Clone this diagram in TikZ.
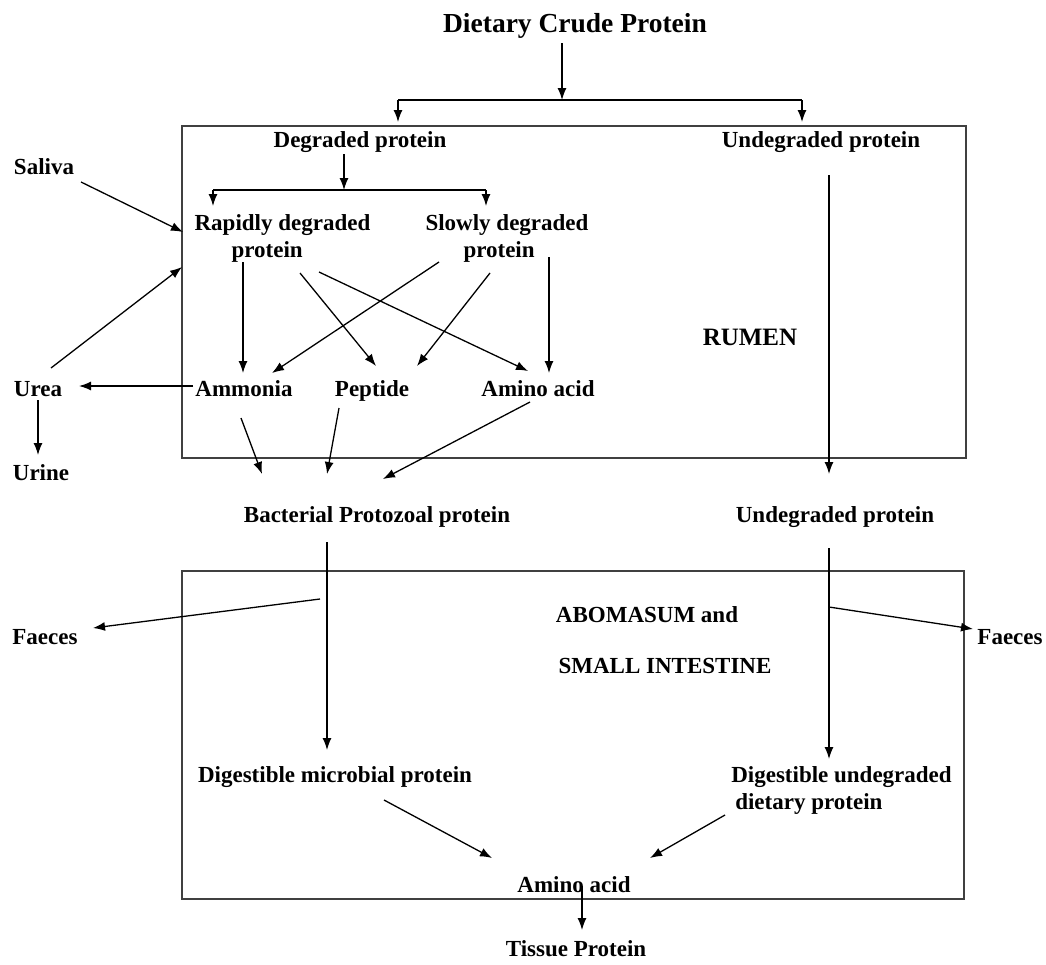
\documentclass[tikz,border=0pt]{standalone}
\usepackage{fontspec}
\setmainfont{Liberation Serif}
\usetikzlibrary{arrows.meta}
\begin{document}
\begin{tikzpicture}[x=1pt,y=-1pt,
  lbl/.style={font=\fontsize{23}{27}\selectfont\bfseries, inner sep=0pt, anchor=base},
  ttl/.style={font=\fontsize{27.5}{32}\selectfont\bfseries, inner sep=0pt, anchor=base},
  arr/.style={-{Latex[length=12pt,width=9pt]}, line width=1.3pt},
  ln/.style={line width=1.3pt},
  boxline/.style={line width=1.7pt, draw=black!75}]
\useasboundingbox[fill=white] (0,0) rectangle (1046,964);

% boxes
\draw[boxline] (182,126) rectangle (966,458);
\draw[boxline] (182,571) rectangle (964,899);

% labels
\node[ttl] (title) at (575,32) {Dietary Crude Protein};
\node[lbl] (deg) at (360,147) {Degraded protein};
\node[lbl] (undeg) at (821,147) {Undegraded protein};
\node[lbl] (saliva) at (44,174) {Saliva};
\node[lbl,align=left,anchor=center] (rap) at (282.5,238) {Rapidly degraded\\\hspace*{37pt}protein};
\node[lbl,align=left,anchor=center] (slow) at (507,238) {Slowly degraded\\\hspace*{38pt}protein};
\node[lbl,font=\fontsize{25}{29}\selectfont\bfseries] (rumen) at (750,345) {RUMEN};
\node[lbl] (urea) at (38,396) {Urea};
\node[lbl] (amm) at (244,396) {Ammonia};
\node[lbl] (pep) at (372,396) {Peptide};
\node[lbl] (aa) at (538,396) {Amino acid};
\node[lbl] (urine) at (41,480) {Urine};
\node[lbl] (bact) at (377,522) {Bacterial Protozoal protein};
\node[lbl] (undeg2) at (835,522) {Undegraded protein};
\node[lbl] (abom) at (647,622) {ABOMASUM and};
\node[lbl] (small) at (665,673) {SMALL INTESTINE};
\node[lbl] (faecesL) at (45,644) {Faeces};
\node[lbl] (faecesR) at (1010,644) {Faeces};
\node[lbl] (dmp) at (335,782) {Digestible microbial protein};
\node[lbl,align=left,anchor=center] (dud) at (841.5,790) {Digestible undegraded\\\hspace*{4pt}dietary protein};
\node[lbl] (aa2) at (574,892) {Amino acid};
\node[lbl] (tissue) at (576,956) {Tissue Protein};

% connector end points
\coordinate (tS) at (562,43);
\coordinate (j1) at (562,100);
\coordinate (jL) at (398,100);
\coordinate (jR) at (802,100);
\coordinate (dS) at (344,154);
\coordinate (j2) at (344,190);
\coordinate (j2L) at (213,190);
\coordinate (j2R) at (486,190);
\coordinate (salS) at (81,182);
\coordinate (sIn) at (183,232);
\coordinate (ureaS) at (51,368);
\coordinate (uIn) at (182,267);
\coordinate (ammW) at (193,386);
\coordinate (ureaE) at (79,386);
\coordinate (ureaB) at (38,400);
\coordinate (urineT) at (38,455);
\coordinate (rapA) at (243,262);
\coordinate (rapB) at (300,273);
\coordinate (rapC) at (319,272);
\coordinate (slowA) at (439,262);
\coordinate (slowB) at (490,273);
\coordinate (slowC) at (549,257);
\coordinate (ammT1) at (243,373);
\coordinate (ammT2) at (272,373);
\coordinate (pepT1) at (376,366);
\coordinate (pepT2) at (417,366);
\coordinate (aaT1) at (528,371);
\coordinate (aaT2) at (549,373);
\coordinate (ammB) at (241,418);
\coordinate (pepB) at (339,408);
\coordinate (aaB) at (530,402);
\coordinate (bT1) at (262,474);
\coordinate (bT2) at (327,474);
\coordinate (bT3) at (383,479);
\coordinate (uS) at (829,175);
\coordinate (u2T) at (829,474);
\coordinate (bB) at (327,542);
\coordinate (dmpT) at (327,750);
\coordinate (u2B) at (829,548);
\coordinate (dudT) at (829,759);
\coordinate (fL) at (320,599);
\coordinate (fLT) at (93,628);
\coordinate (fR) at (829,607);
\coordinate (fRT) at (973,629);
\coordinate (dmpB) at (384,800);
\coordinate (aaT3) at (492,858);
\coordinate (dudB) at (725,815);
\coordinate (aaT4) at (650,858);
\coordinate (aa2B) at (582,886);
\coordinate (tisT) at (582,930);

% top split
\draw[arr] (tS) -- (j1);
\draw[ln] (jL) -- (jR);
\draw[arr] (jL) -- ++(0,22);
\draw[arr] (jR) -- ++(0,22);

% degraded split
\draw[arr] (dS) -- (j2);
\draw[ln] (j2L) -- (j2R);
\draw[arr] (j2L) -- ++(0,16);
\draw[arr] (j2R) -- ++(0,16);

% saliva and urea recycling
\draw[arr] (salS) -- (sIn);
\draw[arr] (ureaS) -- (uIn);
\draw[arr] (ammW) -- (ureaE);
\draw[arr] (ureaB) -- (urineT);

% within rumen
\draw[arr] (rapA) -- (ammT1);
\draw[arr] (slowA) -- (ammT2);
\draw[arr] (rapB) -- (pepT1);
\draw[arr] (rapC) -- (aaT1);
\draw[arr] (slowB) -- (pepT2);
\draw[arr] (slowC) -- (aaT2);

% to microbial protein
\draw[arr] (ammB) -- (bT1);
\draw[arr] (pepB) -- (bT2);
\draw[arr] (aaB) -- (bT3);

% undegraded path
\draw[arr] (uS) -- (u2T);

% abomasum
\draw[arr] (bB) -- (dmpT);
\draw[arr] (u2B) -- (dudT);
\draw[arr] (fL) -- (fLT);
\draw[arr] (fR) -- (fRT);
\draw[arr] (dmpB) -- (aaT3);
\draw[arr] (dudB) -- (aaT4);
\draw[arr] (aa2B) -- (tisT);
\end{tikzpicture}
\end{document}
